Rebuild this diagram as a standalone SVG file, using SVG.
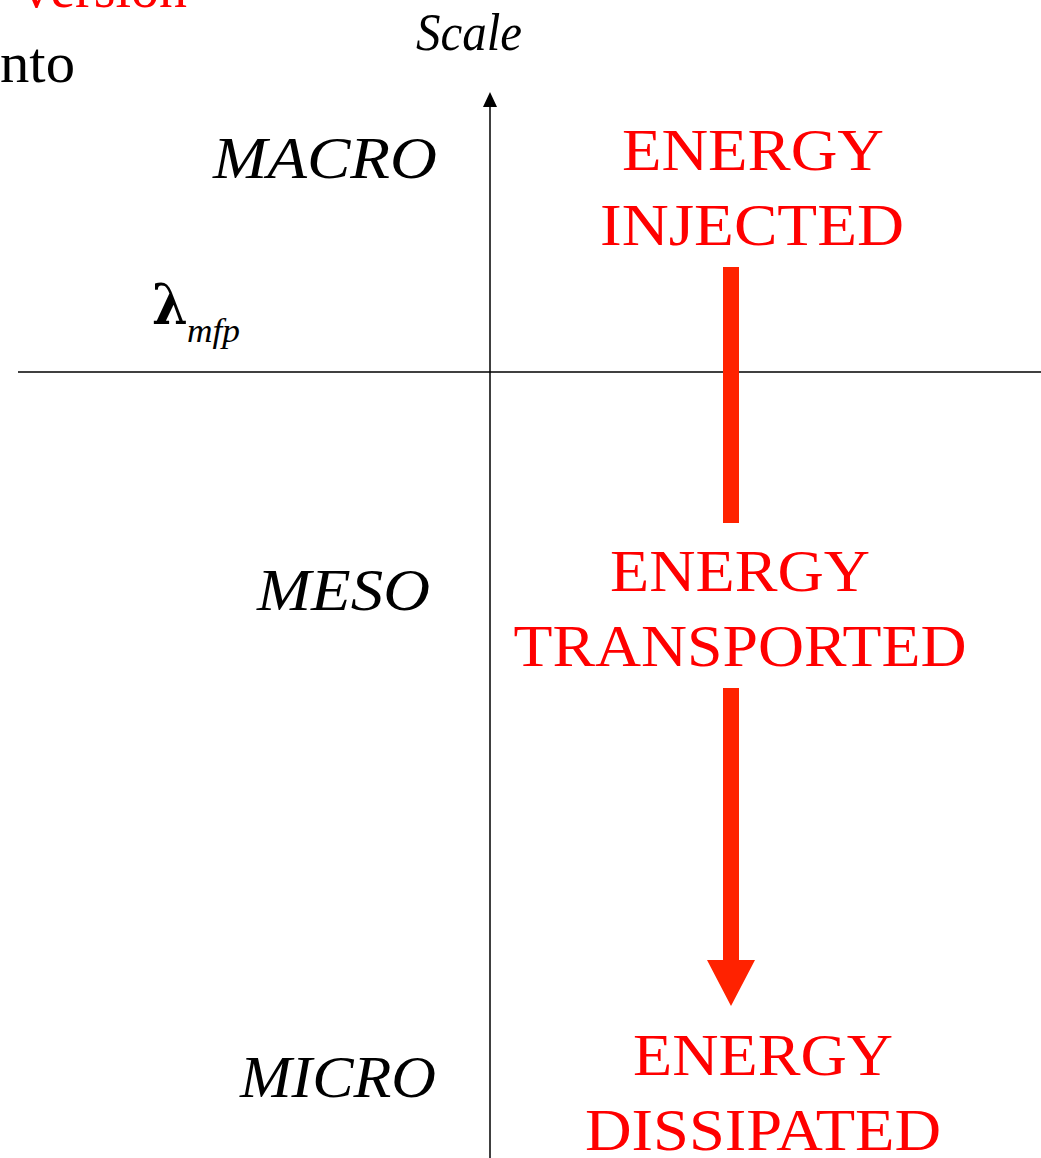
<svg xmlns="http://www.w3.org/2000/svg" width="1041" height="1158" viewBox="0 0 1041 1158">
<style>
.ax{stroke:#000;stroke-width:1.5;fill:none}
.lab{font-family:"Liberation Serif",serif;font-style:italic;font-size:60px;fill:#000}
.red{font-family:"Liberation Serif",serif;font-size:60px;fill:#ff0000;text-anchor:middle}
.blk{font-family:"Liberation Serif",serif;font-size:56px;fill:#000}
.flow{fill:#ff2200}
</style>
<g id="header">
<text x="187" y="7" text-anchor="end" style="font-family:'Liberation Serif',serif;font-size:56px;fill:#ff0000">version</text>
<text x="0" y="82" class="blk" textLength="75" lengthAdjust="spacingAndGlyphs">nto</text>
</g>
<g id="connectors">
<line class="ax" x1="490" y1="1158" x2="490" y2="104"/>
<path d="M490,92 L497,107 L483,107 Z" fill="#000"/>
<line class="ax" x1="18" y1="372" x2="1041" y2="372"/>
<rect class="flow" x="723" y="267" width="16" height="256"/>
<path class="flow" d="M723,688 H739 V960 H755 L731,1006 L707,960 H723 Z"/>
</g>
<g id="axis-label"><text x="469" y="50" text-anchor="middle" class="lab" style="font-size:52px" textLength="106" lengthAdjust="spacingAndGlyphs">Scale</text></g>
<g id="lambda">
<text x="152" y="324" style="font-family:'DejaVu Serif',serif;font-weight:bold;font-size:56px;fill:#000" textLength="36" lengthAdjust="spacingAndGlyphs">λ</text>
<text x="187" y="342" class="lab" style="font-size:34px" textLength="53" lengthAdjust="spacingAndGlyphs">mfp</text>
</g>
<g id="macro"><text x="437" y="178" text-anchor="end" class="lab" textLength="224" lengthAdjust="spacingAndGlyphs">MACRO</text></g>
<g id="meso"><text x="430" y="610" text-anchor="end" class="lab" textLength="173" lengthAdjust="spacingAndGlyphs">MESO</text></g>
<g id="micro"><text x="436" y="1097" text-anchor="end" class="lab" textLength="196" lengthAdjust="spacingAndGlyphs">MICRO</text></g>
<g id="injected">
<text x="753" y="170" class="red" textLength="262" lengthAdjust="spacingAndGlyphs">ENERGY</text>
<text x="752" y="245" class="red" textLength="304" lengthAdjust="spacingAndGlyphs">INJECTED</text>
</g>
<g id="transported">
<text x="740" y="591" class="red" textLength="260" lengthAdjust="spacingAndGlyphs">ENERGY</text>
<text x="740" y="666" class="red" textLength="453" lengthAdjust="spacingAndGlyphs">TRANSPORTED</text>
</g>
<g id="dissipated">
<text x="763" y="1075" class="red" textLength="260" lengthAdjust="spacingAndGlyphs">ENERGY</text>
<text x="763" y="1150" class="red" textLength="356" lengthAdjust="spacingAndGlyphs">DISSIPATED</text>
</g>
</svg>
